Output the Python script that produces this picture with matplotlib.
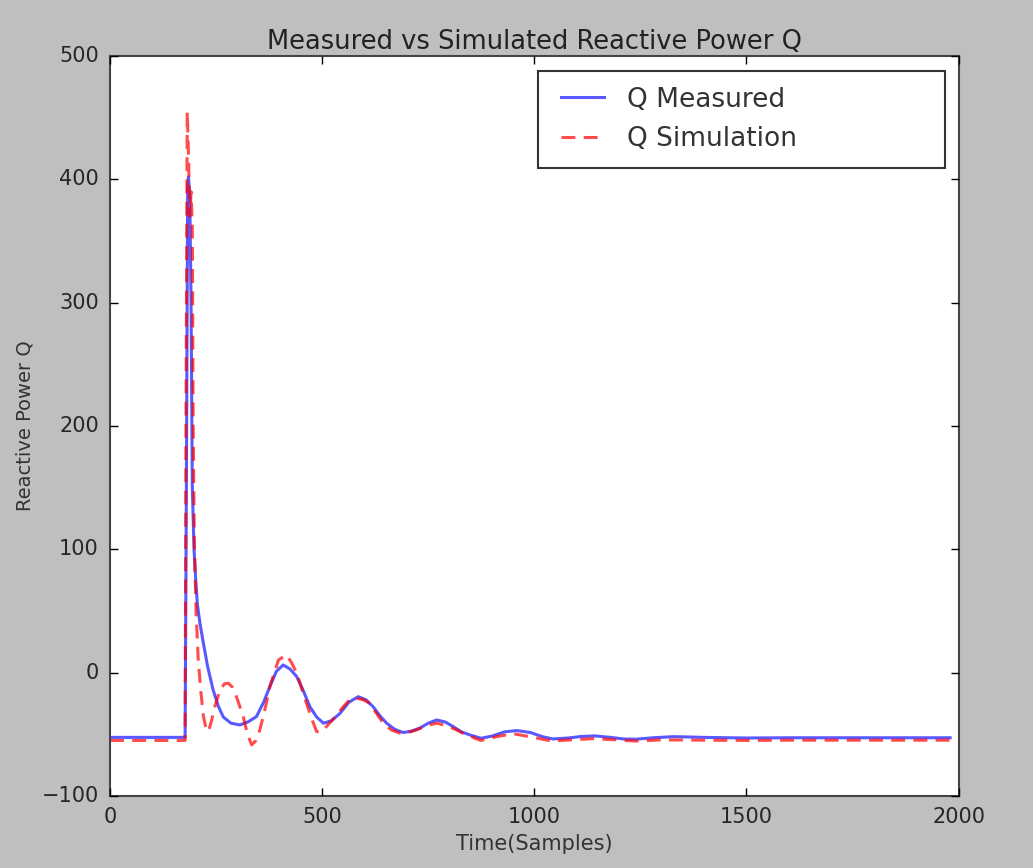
import matplotlib
matplotlib.use("Agg")
import matplotlib.pyplot as plt

# Q measured (sample, value)
meas_t = [0, 176, 177, 180, 183, 185, 188, 191, 194, 198, 202, 206, 212, 220, 230,
          243, 255, 267, 285, 306, 325, 345, 362, 377, 392, 408, 424, 440, 456, 471,
          487, 503, 522, 542, 563, 585, 603, 620, 636, 652, 671, 691, 710, 730, 750,
          770, 790, 809, 828, 848, 874, 900, 930, 959, 990, 1020, 1044, 1080, 1110,
          1142, 1180, 1210, 1239, 1280, 1329, 1400, 1500, 1600, 1700, 1800, 1900, 1980]
meas_q = [-52.5, -52.5, -52.5, 150, 395, 402, 385, 300, 150, 100, 75, 55, 40, 24, 5,
          -14, -27, -36, -41, -42.4, -40, -35.7, -24, -11, 1, 6.2, 3, -3.2, -15, -27.6,
          -36, -41, -39, -33, -24, -19.5, -22, -27.6, -35, -41, -46, -48.6, -47.5, -45, -41,
          -38.4, -40, -43.8, -48, -50.5, -53.2, -51.5, -48, -47, -48.5, -52, -53.8, -53, -51.8,
          -51.3, -52.5, -53.8, -54, -52.8, -51.9, -52.5, -53, -52.8, -52.8, -52.8, -52.8, -52.8]

# Q simulation (sample, value)
sim_t = [0, 176, 177, 179, 182, 185, 188, 191, 194, 196, 199, 203, 208, 214, 220,
         226, 232, 240, 247, 259, 270, 279, 289, 298, 314, 324, 334, 344, 353, 365,
         377, 397, 416, 428, 440, 452, 463, 475, 487, 498, 510, 530, 550, 565, 581,
         597, 612, 628, 644, 663, 683, 702, 722, 746, 770, 793, 817, 840, 874, 910,
         950, 990, 1040, 1090, 1140, 1190, 1240, 1300, 1400, 1500, 1600, 1700, 1800, 1900, 1980]
sim_q = [-55, -55, -55, 200, 455, 420, 370, 390, 360, 200, 100, 48, 10, -15, -35,
         -45, -47.8, -38, -27.6, -14, -9, -8.6, -12, -19.5, -35.7, -50, -58.6, -55, -46.5, -30,
         -11, 10.3, 14.4, 8, -0.5, -13, -24.8, -37, -47.8, -48, -43.8, -36, -27.6, -22, -20.8,
         -22, -24.8, -33, -41, -46.5, -49, -48.5, -46.5, -43, -41, -43, -46.5, -50.5, -55, -52,
         -49.5, -52, -55.4, -54.5, -53.5, -54.5, -55.5, -54.5, -54.8, -55, -54.8, -54.8, -54.8, -54.8, -54.8]

plt.style.use("classic")
fig = plt.figure(figsize=(10.33, 8.68), dpi=100)
ax = fig.add_axes([0.1065, 0.083, 0.8215, 0.8525])

ax.plot(meas_t, meas_q, color="blue", alpha=0.65, linewidth=2.2, label="Q Measured")
ax.plot(sim_t, sim_q, color="red", alpha=0.7, linewidth=2.2, linestyle="--",
        dashes=(10, 6), label="Q Simulation")

ax.set_xlim(0, 2000)
ax.set_ylim(-100, 500)
ax.set_xticks([0, 500, 1000, 1500, 2000])
ax.set_yticks([-100, 0, 100, 200, 300, 400, 500])
ax.tick_params(labelsize=15, length=6, width=1, pad=8, labelcolor="#262626")
for s in ax.spines.values():
    s.set_color("#444444")
    s.set_linewidth(1.5)

ax.set_title("Measured vs Simulated Reactive Power Q", fontsize=18.5, color="#222222")
ax.set_xlabel("Time(Samples)", fontsize=15, color="#333333")
ax.set_ylabel("Reactive Power Q", fontsize=14, color="#333333")

leg = ax.legend(loc="upper left", bbox_to_anchor=(0.504, 0.98, 0.48, 0.0),
                mode="expand", fontsize=19, numpoints=2, handlelength=2.2,
                handletextpad=0.6, borderaxespad=0.0, borderpad=0.6)
leg.get_frame().set_linewidth(1.5)
leg.get_frame().set_edgecolor("#333333")
for t in leg.get_texts():
    t.set_color("#333333")

fig.savefig("out.png", dpi=100, facecolor=fig.get_facecolor())
